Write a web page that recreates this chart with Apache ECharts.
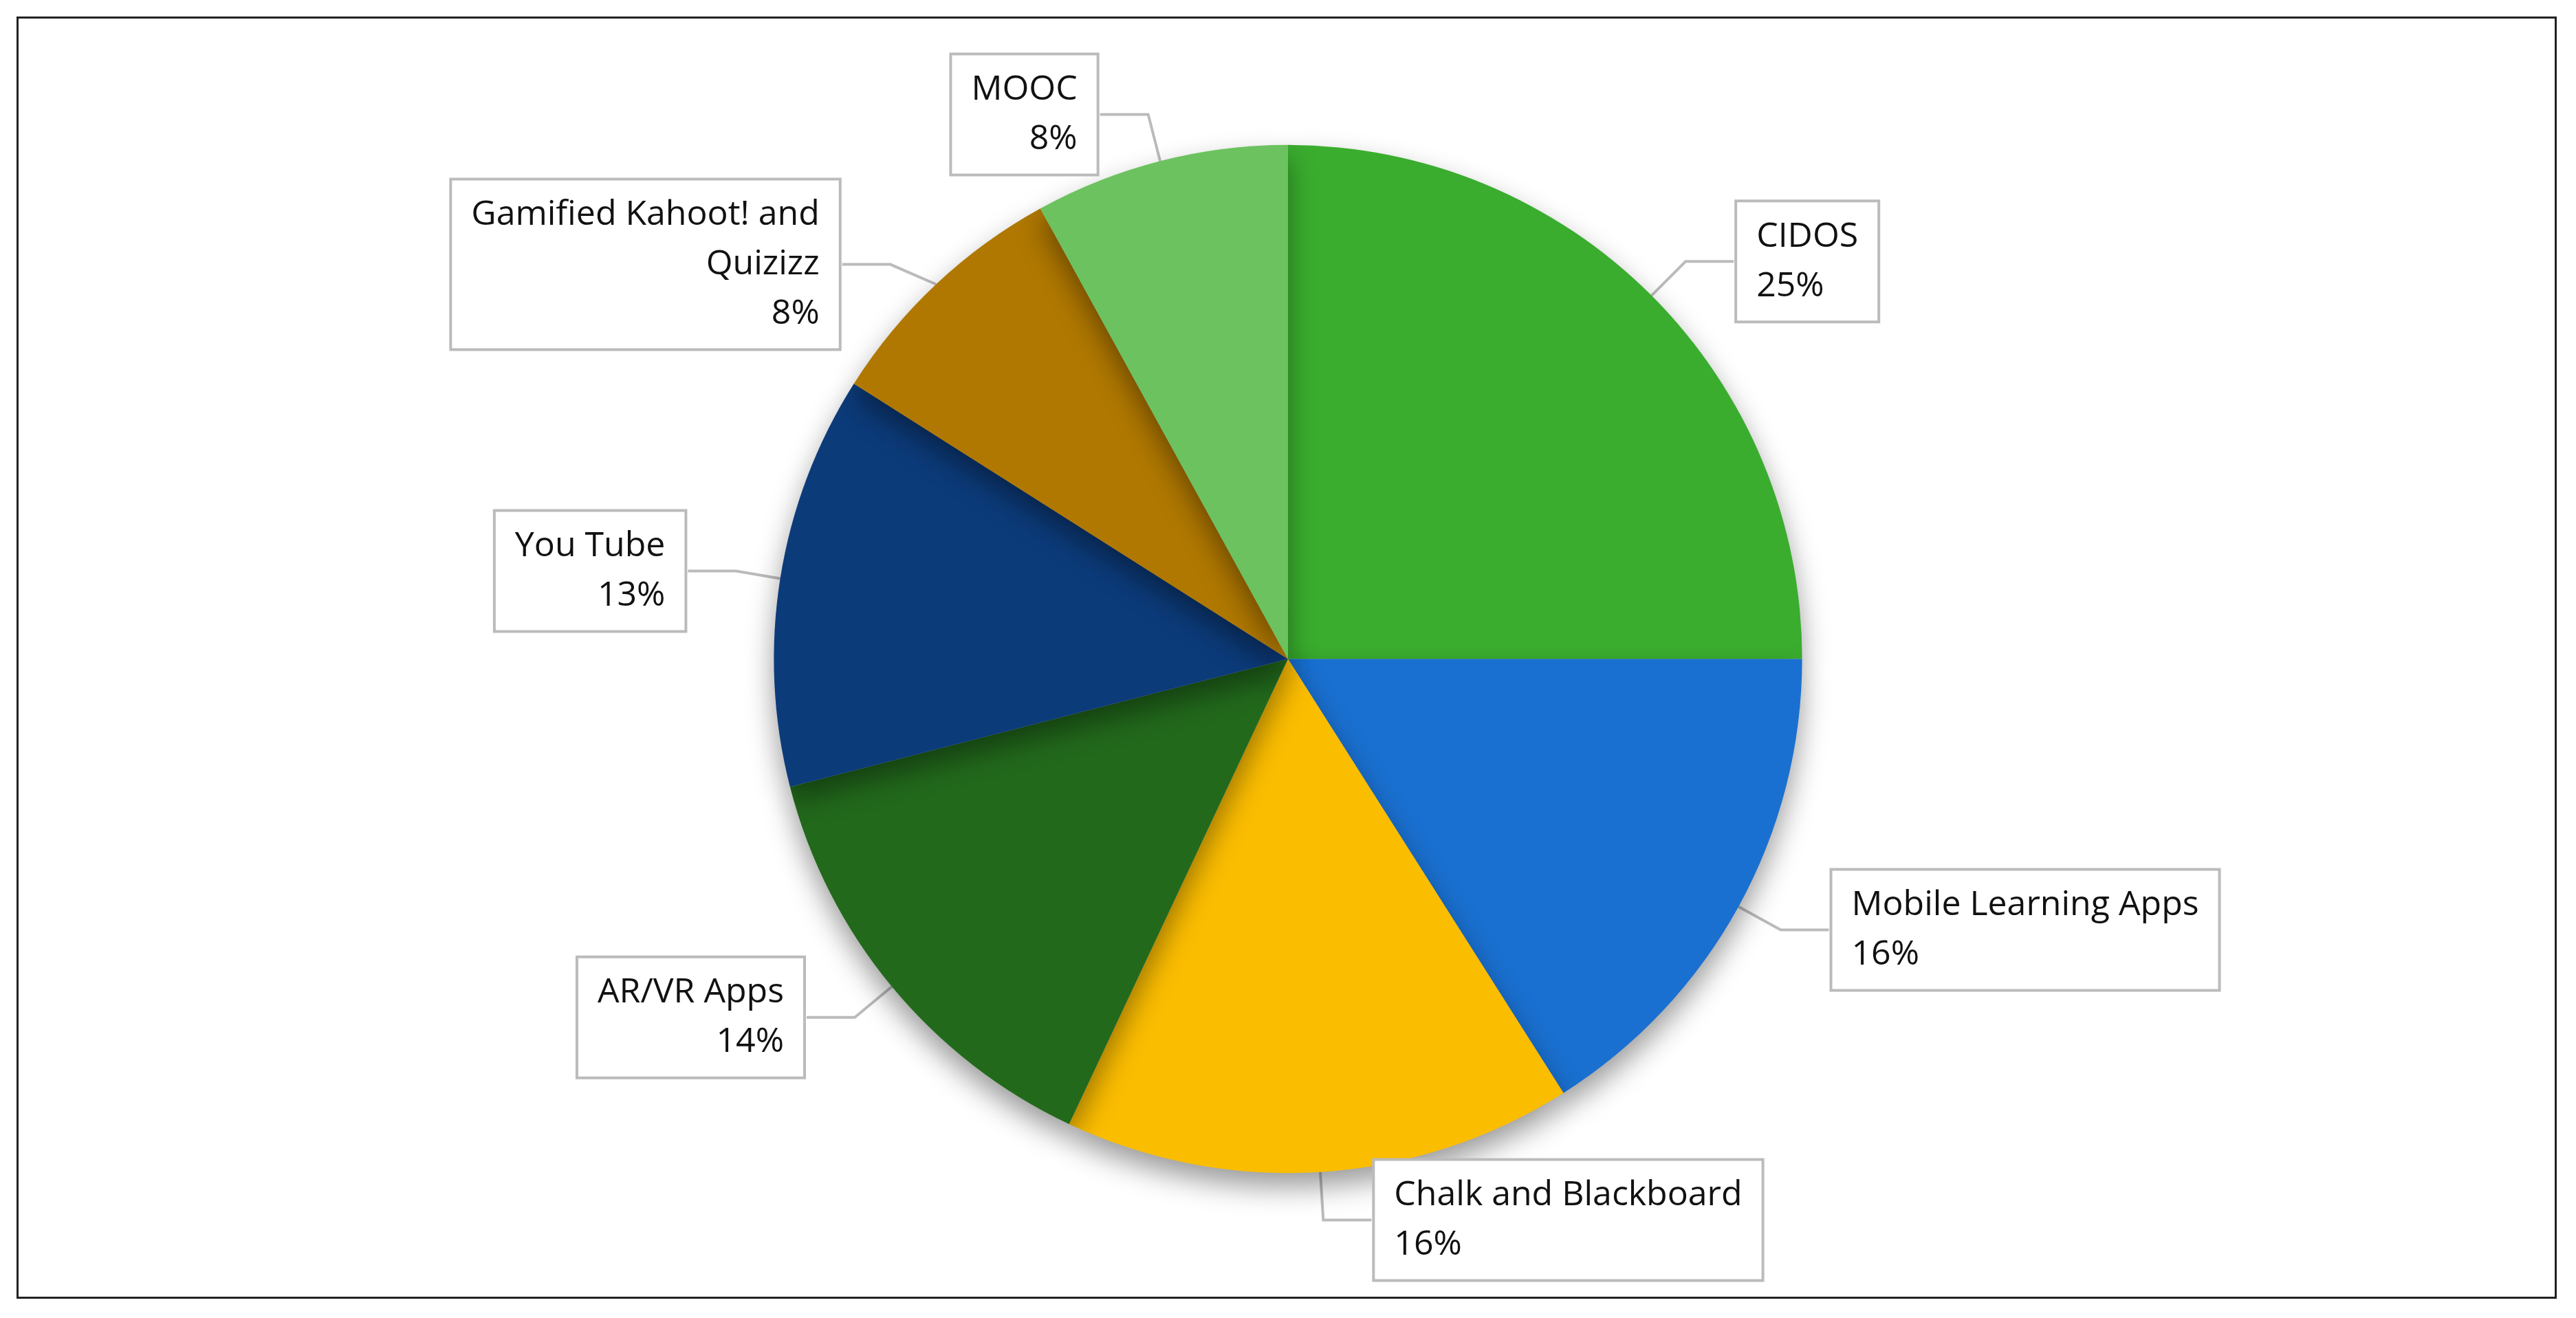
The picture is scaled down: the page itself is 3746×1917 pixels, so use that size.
<!DOCTYPE html>
<html><head><meta charset="utf-8">
<script src="https://cdn.jsdelivr.net/npm/echarts@6/dist/echarts.min.js"></script>
<style>
html,body{margin:0;padding:0;background:#fff;}
#frame{position:absolute;left:24px;top:24px;width:3694px;height:1865px;border:3px solid #222;box-sizing:border-box;}
#c{position:absolute;left:0;top:0;width:3746px;height:1917px;}
</style></head><body>
<div id="frame"></div>
<div id="c"></div>
<script>
const categories = ["CIDOS","Mobile Learning Apps","Chalk and Blackboard","AR/VR Apps","You Tube","Gamified Kahoot! and\nQuizizz","MOOC"];
const values = [25,16,16,14,13,8,8];
const colors = ["#3aad2e","#1a70d0","#fbbd00","#22691c","#0c3b7a","#b07800","#6cc25f"];
const chart = echarts.init(document.getElementById('c'));
chart.setOption({
  animation:false,
  series:[{
    type:'pie',
    center:['50%','50%'],
    radius:['0%','78%'],
    startAngle:90,
    clockwise:true,
    data:categories.map((n,i)=>({name:n,value:values[i],itemStyle:{color:colors[i]}})),
    itemStyle:{shadowBlur:40,shadowColor:'rgba(0,0,0,0.4)',shadowOffsetY:20},
    label:{
      formatter:'{b}\n{d}%',
      fontFamily:'Open Sans',fontSize:50,color:'#111',lineHeight:72,
      backgroundColor:'#fff',borderColor:'#bbb',borderWidth:4,padding:[14,28]
    },
    labelLine:{length:70,length2:70,lineStyle:{color:'#bbb',width:4}}
  }]
});
</script></body></html>
